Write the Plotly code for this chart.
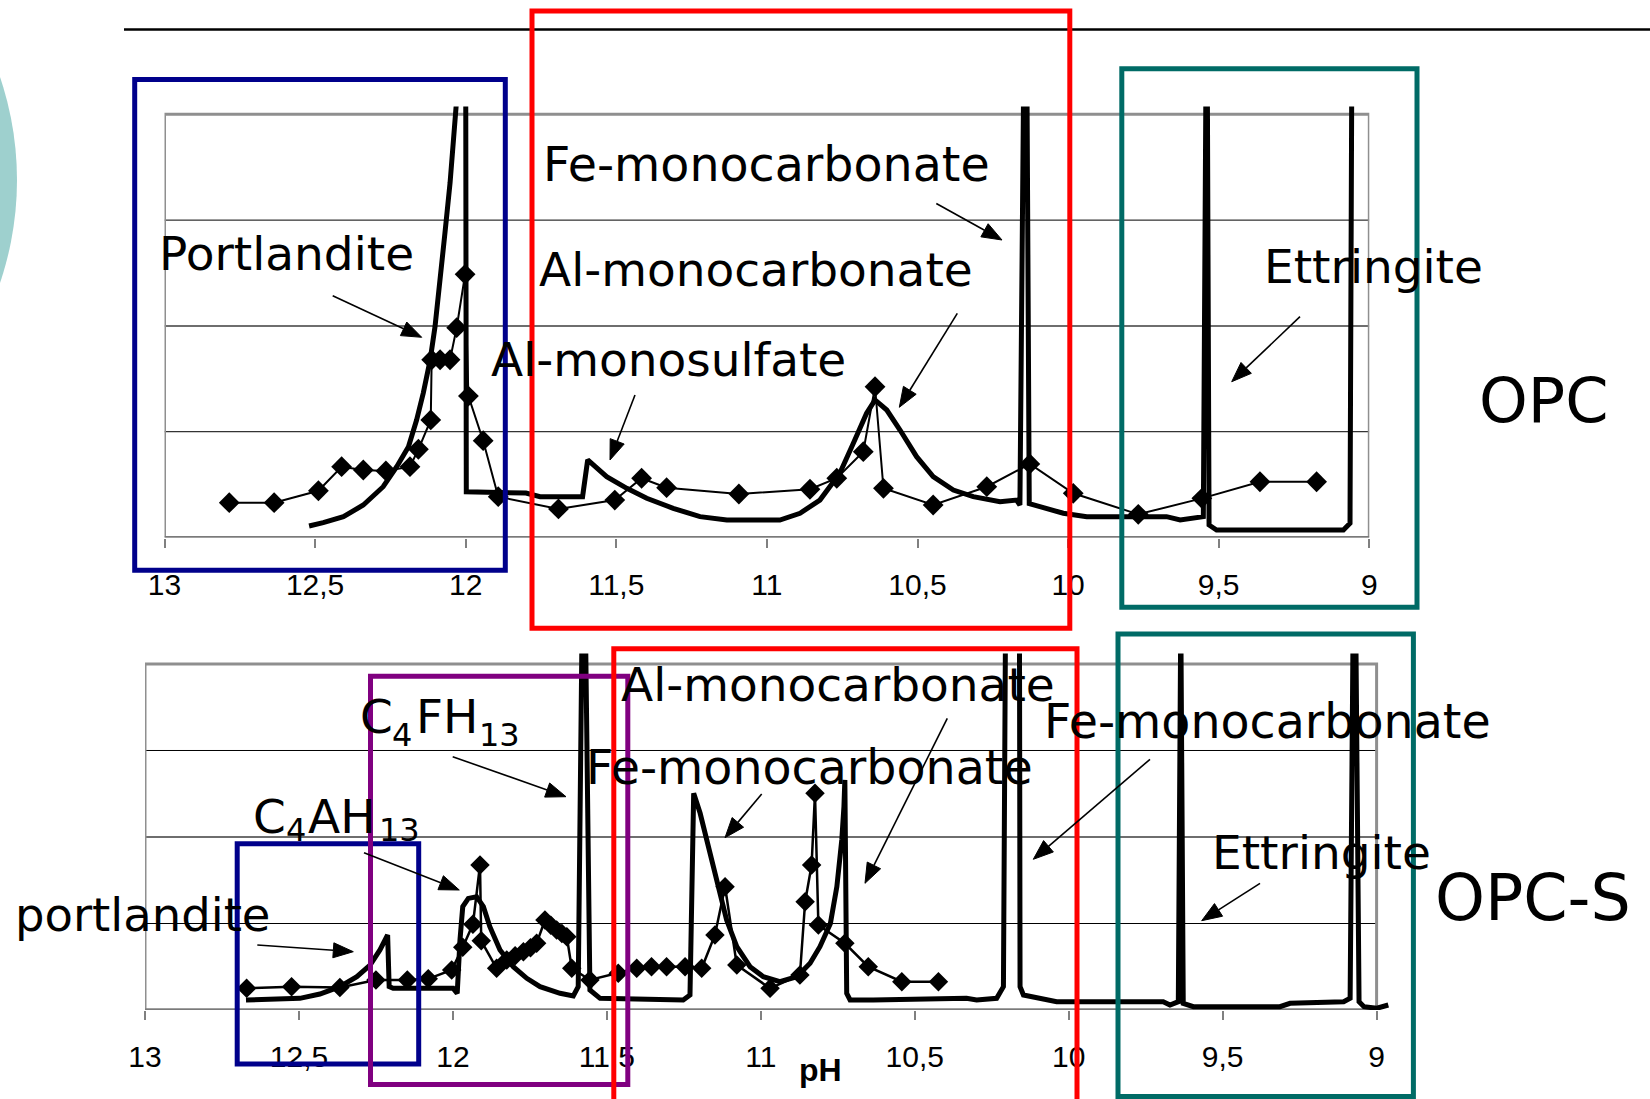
import math
import plotly.graph_objects as go

W, H = 1650, 1099

# ---------------- data: OPC (top chart) ----------------
opc_model_ph = [12.52, 12.473, 12.406, 12.34, 12.274, 12.229, 12.19, 12.163, 12.141, 12.118,
                12.102, 12.085, 12.069, 12.052, 12.036, 12.02, 12.0, 11.998, 11.80, 11.753,
                11.612, 11.595, 11.532, 11.465, 11.399, 11.311, 11.222, 11.133, 10.957, 10.890,
                10.824, 10.758, 10.713, 10.669, 10.641, 10.602, 10.558, 10.503, 10.448, 10.381,
                10.315, 10.226, 10.171, 10.16, 10.147, 10.137, 10.129, 10.071, 10.016, 9.938,
                9.673, 9.628, 9.584, 9.551, 9.542, 9.538, 9.532, 9.507, 9.086, 9.064, 9.058]
opc_model_val = [0.109, 0.14, 0.197, 0.307, 0.48, 0.669, 0.858, 1.11, 1.363, 1.678,
                 1.99, 2.40, 2.875, 3.35, 3.82, 4.5, 4.5, 0.433, 0.42, 0.386,
                 0.386, 0.733, 0.575, 0.465, 0.371, 0.276, 0.197, 0.165, 0.165, 0.229,
                 0.354, 0.607, 0.890, 1.174, 1.30, 1.205, 1.016, 0.764, 0.575, 0.449,
                 0.386, 0.338, 0.354, 0.307, 4.5, 4.5, 0.321, 0.276, 0.229, 0.197,
                 0.197, 0.165, 0.181, 0.197, 4.5, 4.5, 0.118, 0.071, 0.071, 0.134, 4.5]

opc_exp_ph = [12.785, 12.636, 12.489, 12.412, 12.340, 12.265, 12.185, 12.157, 12.116, 12.113,
              12.085, 12.052, 12.03, 12.002, 11.991, 11.942, 11.892, 11.692, 11.505, 11.416,
              11.333, 11.093, 10.857, 10.768, 10.680, 10.641, 10.613, 10.448, 10.270, 10.127,
              9.983, 9.767, 9.556, 9.363, 9.175]
opc_exp_val = [0.329, 0.329, 0.442, 0.669, 0.638, 0.629, 0.669, 0.834, 1.111, 1.68,
               1.68, 1.68, 1.983, 2.488, 1.337, 0.915, 0.386, 0.27, 0.354, 0.56,
               0.471, 0.411, 0.456, 0.56, 0.811, 1.425, 0.465, 0.307, 0.48, 0.695,
               0.418, 0.219, 0.37, 0.527, 0.527]

# ---------------- data: OPC-S (bottom chart) ----------------
opcs_model_ph = [12.672, 12.562, 12.497, 12.432, 12.367, 12.312, 12.269, 12.237, 12.212, 12.207,
                 12.194, 11.999, 11.986, 11.977, 11.968, 11.950, 11.923, 11.901, 11.880, 11.847,
                 11.804, 11.760, 11.717, 11.652, 11.609, 11.593, 11.580, 11.570, 11.555, 11.522,
                 11.252, 11.230, 11.218, 11.197, 11.176, 11.154, 11.132, 11.111, 11.078, 11.035,
                 10.992, 10.938, 10.883, 10.840, 10.808, 10.774, 10.753, 10.737, 10.730, 10.727,
                 10.721, 10.710, 10.635, 10.332, 10.299, 10.234, 10.212, 10.205, 10.160, 10.158,
                 10.147, 10.093, 10.039, 9.693, 9.671, 9.644, 9.640, 9.636, 9.628, 9.595,
                 9.314, 9.281, 9.107, 9.086, 9.076, 9.068, 9.057, 9.041, 8.999, 8.962]
opcs_model_val = [0.116, 0.124, 0.135, 0.185, 0.27, 0.385, 0.52, 0.694, 0.867, 0.27,
                  0.25, 0.25, 0.193, 0.81, 1.194, 1.29, 1.31, 1.194, 0.963, 0.694,
                  0.50, 0.366, 0.27, 0.193, 0.162, 0.27, 4.6, 4.6, 0.231, 0.135,
                  0.116, 0.173, 2.505, 2.274, 1.965, 1.657, 1.349, 1.04, 0.732, 0.50,
                  0.385, 0.327, 0.385, 0.54, 0.732, 1.0, 1.425, 1.965, 2.35, 2.66,
                  0.193, 0.116, 0.116, 0.135, 0.116, 0.135, 0.27, 4.6, 4.6, 0.27,
                  0.173, 0.135, 0.096, 0.096, 0.058, 0.096, 4.6, 4.6, 0.077, 0.038,
                  0.038, 0.077, 0.096, 0.135, 4.6, 4.6, 0.096, 0.038, 0.02, 0.058]

opcs_exp_ph = [12.670, 12.524, 12.367, 12.25, 12.148, 12.08, 12.004, 11.968, 11.935, 11.912,
               11.908, 11.858, 11.825, 11.798, 11.771, 11.748, 11.728, 11.701, 11.682, 11.663,
               11.646, 11.630, 11.614, 11.555, 11.463, 11.403, 11.355, 11.306, 11.246, 11.192,
               11.149, 11.116, 11.078, 10.970, 10.873, 10.856, 10.835, 10.824, 10.813, 10.727,
               10.651, 10.542, 10.423]
opcs_exp_val = [0.25, 0.27, 0.26, 0.347, 0.347, 0.36, 0.462, 0.725, 0.99, 1.676,
                0.80, 0.482, 0.578, 0.626, 0.674, 0.72, 0.771, 1.04, 0.98, 0.925,
                0.885, 0.847, 0.482, 0.347, 0.424, 0.482, 0.50, 0.50, 0.50, 0.482,
                0.867, 1.425, 0.52, 0.25, 0.405, 1.252, 1.676, 2.505, 0.983, 0.771,
                0.50, 0.327, 0.327]

tick_vals = [13, 12.5, 12, 11.5, 11, 10.5, 10, 9.5, 9]
tick_text = ["13", "12,5", "12", "11,5", "11", "10,5", "10", "9,5", "9"]
grid_vals = [1, 2, 3]

# ---------------- helpers ----------------
def px_x(p):
    return p / W

def px_y(p):
    return 1 - p / H

fig = go.Figure()

fig.add_trace(go.Scatter(x=opc_model_ph, y=opc_model_val, mode="lines",
                         line=dict(color="black", width=5), xaxis="x", yaxis="y"))
fig.add_trace(go.Scatter(x=opc_exp_ph, y=opc_exp_val, mode="lines+markers",
                         line=dict(color="black", width=2),
                         marker=dict(symbol="diamond", size=16, color="black"),
                         xaxis="x", yaxis="y"))
fig.add_trace(go.Scatter(x=opcs_model_ph, y=opcs_model_val, mode="lines",
                         line=dict(color="black", width=5), xaxis="x2", yaxis="y2"))
fig.add_trace(go.Scatter(x=opcs_exp_ph, y=opcs_exp_val, mode="lines+markers",
                         line=dict(color="black", width=2.5),
                         marker=dict(symbol="diamond", size=15, color="black"),
                         xaxis="x2", yaxis="y2"))

tickfont = dict(family="Liberation Sans, Arial, sans-serif", size=30, color="black")
common_x = dict(showgrid=False, zeroline=False, showline=False,
                ticks="outside", ticklen=9, tickwidth=1.5, tickcolor="#808080",
                tickvals=tick_vals, ticktext=tick_text, tickfont=tickfont,
                ticklabelstandoff=11, fixedrange=True, automargin=False)
common_y = dict(showgrid=False, zeroline=False, showline=False, showticklabels=False,
                ticks="", fixedrange=True, automargin=False)

fig.update_layout(
    width=W, height=H, margin=dict(l=0, r=0, t=0, b=0, pad=0, autoexpand=False),
    paper_bgcolor="white", plot_bgcolor="rgba(0,0,0,0)",
    showlegend=False, hovermode=False,
    xaxis=dict(common_x, range=[13, 9], domain=[px_x(164.5), px_x(1369.3)], anchor="y"),
    yaxis=dict(common_y, range=[0, 4.074], domain=[px_y(537.5), px_y(106.5)], anchor="x"),
    xaxis2=dict(common_x, range=[13, 8.95], domain=[px_x(145), px_x(1392)], anchor="y2"),
    yaxis2=dict(common_y, range=[0, 4.12], domain=[px_y(1010), px_y(653.6)], anchor="x2"),
)

shapes = []
# light teal decoration on the left edge
shapes.append(dict(type="circle", xref="paper", yref="paper",
                   x0=px_x(-623), x1=px_x(17), y0=px_y(500), y1=px_y(-140),
                   fillcolor="#9ED0CE", line=dict(width=0), layer="below"))
# top rule
shapes.append(dict(type="line", xref="paper", yref="paper",
                   x0=px_x(124), x1=1.0, y0=px_y(29.5), y1=px_y(29.5),
                   line=dict(color="black", width=2.5)))

for xr, yr in (("x", "y"), ("x2", "y2")):
    for g in grid_vals:
        if g == 2:
            ln = dict(color="#6e6e6e", width=2)
        else:
            ln = dict(color="black", width=1)
        shapes.append(dict(type="line", xref=xr, yref=yr, x0=13, x1=9, y0=g, y1=g,
                           line=ln, layer="below"))
    shapes.append(dict(type="rect", xref=xr, yref=yr, x0=13, x1=9, y0=0, y1=4,
                       line=dict(color="#8f8f8f", width=3), layer="below"))
    shapes.append(dict(type="line", xref=xr, yref=yr, x0=13, x1=9, y0=0, y1=0,
                       line=dict(color="#7a7a7a", width=3), layer="below"))

def box(x0, y0, x1, y1, color):
    return dict(type="rect", xref="paper", yref="paper",
                x0=px_x(x0), x1=px_x(x1), y0=px_y(y1), y1=px_y(y0),
                line=dict(color=color, width=5), layer="above")

NAVY, RED, TEAL, PURPLE = "#00008B", "#FF0000", "#006B66", "#800080"
shapes += [
    box(134.7, 79.5, 505.3, 570.2, NAVY),
    box(532, 11, 1069.8, 628.3, RED),
    box(1121.8, 68.8, 1417, 607.3, TEAL),
    box(237.2, 843.8, 418.7, 1064, NAVY),
    box(370.5, 676.3, 627.8, 1084.6, PURPLE),
    box(613.8, 648.7, 1077, 1115, RED),
    box(1118, 634, 1413.4, 1096.5, TEAL),
]

# arrows (line + filled triangular head), pixel geometry converted to paper
def arrow(tail, tip, head_len=20.0, head_half=7.5):
    dx, dy = tip[0] - tail[0], tip[1] - tail[1]
    d = math.hypot(dx, dy)
    ux, uy = dx / d, dy / d
    bx, by = tip[0] - head_len * ux, tip[1] - head_len * uy
    nx, ny = -uy, ux
    shapes.append(dict(type="line", xref="paper", yref="paper",
                       x0=px_x(tail[0]), y0=px_y(tail[1]), x1=px_x(bx), y1=px_y(by),
                       line=dict(color="black", width=1.6), layer="above"))
    p1 = (bx + head_half * nx, by + head_half * ny)
    p2 = (bx - head_half * nx, by - head_half * ny)
    path = "M {:.5f} {:.5f} L {:.5f} {:.5f} L {:.5f} {:.5f} Z".format(
        px_x(tip[0]), px_y(tip[1]), px_x(p1[0]), px_y(p1[1]), px_x(p2[0]), px_y(p2[1]))
    shapes.append(dict(type="path", xref="paper", yref="paper", path=path,
                       fillcolor="black", line=dict(color="black", width=1), layer="above"))

arrow((332.7, 295.7), (421.7, 337.3))
arrow((936.3, 203.5), (1002, 240))
arrow((957.3, 313.3), (899.3, 407.3))
arrow((635, 395), (610, 460))
arrow((1300, 316.7), (1231.7, 381.7))

arrow((452.7, 756.7), (566, 796.7))
arrow((364, 852.7), (459.3, 890))
arrow((257.3, 945), (353.3, 951.7))
arrow((761.7, 794), (725, 837.7))
arrow((947.3, 718.3), (865, 883.3))
arrow((1150, 759.3), (1033.3, 859.3))
arrow((1260, 883.3), (1201.7, 920.7))

fig.update_layout(shapes=shapes)

# ---------------- text labels ----------------
ann = []
LBL = dict(family="DejaVu Sans, Verdana, sans-serif", size=47, color="black")

def label(text, left, cy, size=47, bearing=3):
    f = dict(LBL, size=size)
    ann.append(dict(text=text, xref="paper", yref="paper", x=px_x(left - bearing), y=px_y(cy),
                    xanchor="left", yanchor="middle", showarrow=False, font=f))

label("Fe-monocarbonate", 544, 164.5, 47.5)
label("Portlandite", 160, 254)
label("Al-monocarbonate", 540, 269)
label("Al-monosulfate", 492, 359)
label("Ettringite", 1265, 266.7)
label("OPC", 1480, 400, 62)

# C4FH13 (subscripts set as smaller, lowered text pieces)
label("C", 361, 716.8)
label("4", 393.3, 735, 32)
label("FH", 416.7, 716.8)
label("13", 480, 735, 32)
# C4AH13
label("C", 254, 816.3)
label("4", 286.7, 830, 32)
label("AH", 306.7, 816.3, 47, 1)
label("13", 380, 830, 32)

label("portlandite", 16, 915, 46.5)
label("Al-monocarbonate", 622, 684)
label("Fe-monocarbonate", 587, 767, 47.5)
label("Fe-monocarbonate", 1045, 721, 47.5)
label("Ettringite", 1213, 852)
label("OPC-S", 1436, 897.5, 63.5)

ann.append(dict(text="<b>pH</b>", xref="paper", yref="paper", x=px_x(820), y=px_y(1070),
                xanchor="center", yanchor="middle", showarrow=False,
                font=dict(family="Liberation Sans, Arial, sans-serif", size=32, color="black")))

fig.update_layout(annotations=ann)

fig.write_html("out.html")
